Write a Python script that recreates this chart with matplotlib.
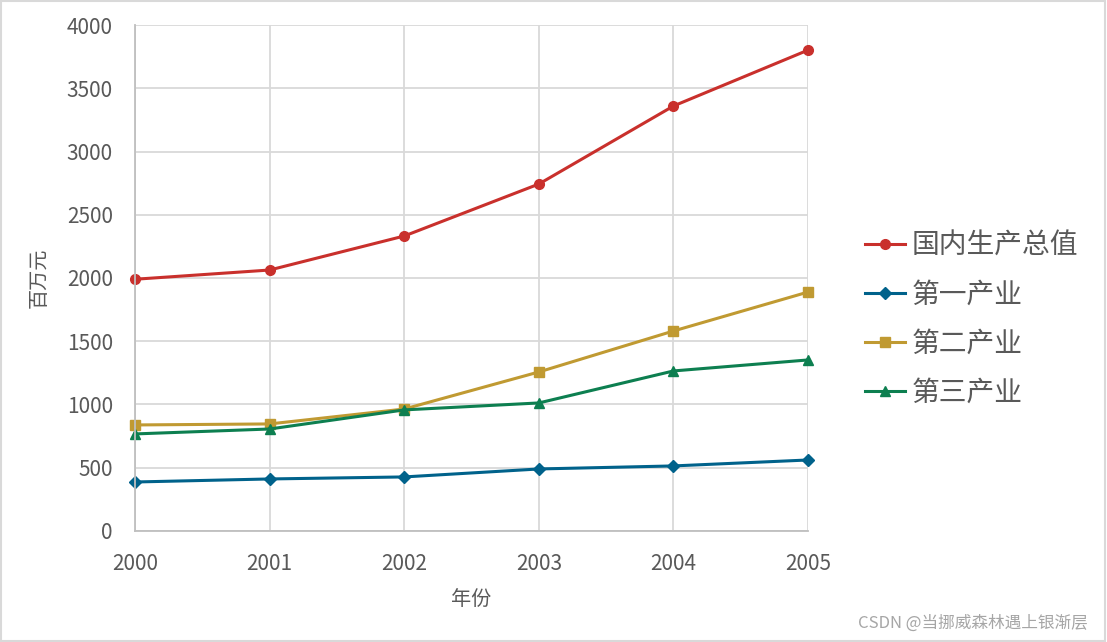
import matplotlib.pyplot as plt
from matplotlib.patches import Rectangle

plt.rcParams['font.family'] = ['Noto Sans CJK SC', 'DejaVu Sans']

# 数据
years = [2000, 2001, 2002, 2003, 2004, 2005]
gdp = [1990, 2063, 2332, 2743, 3360, 3802]
first = [387, 411, 427, 490, 514, 561]
second = [838, 846, 964, 1257, 1581, 1889]
third = [767, 806, 957, 1012, 1265, 1352]
names = ['国内生产总值', '第一产业', '第二产业', '第三产业']

fig = plt.figure(figsize=(11.07, 6.42), dpi=100)
ax = fig.add_axes([0.122, 0.173, 0.608, 0.788])

ax.plot(years, gdp, color='#C9302C', lw=2.2, marker='o', ms=7, label=names[0], clip_on=False)
ax.plot(years, first, color='#00628B', lw=2.2, marker='D', ms=6, label=names[1], clip_on=False)
ax.plot(years, second, color='#C09A32', lw=2.2, marker='s', ms=7, label=names[2], clip_on=False)
ax.plot(years, third, color='#0D7F50', lw=2.2, marker='^', ms=7, label=names[3], clip_on=False)

ax.set_xlim(2000, 2005)
ax.set_ylim(0, 4000)
ax.set_yticks(range(0, 4001, 500))
ax.set_xticks(years)
ax.grid(True, color='#D9D9D9', lw=1.3)
ax.set_axisbelow(True)
for s in ['top', 'right']:
    ax.spines[s].set_visible(False)
for s in ['left', 'bottom']:
    ax.spines[s].set_color('#BFBFBF')
    ax.spines[s].set_linewidth(1.3)
ax.tick_params(length=0, labelsize=15, labelcolor='#595959')
ax.tick_params(axis='y', pad=16)
ax.tick_params(axis='x', pad=16)
ax.set_xlabel('年份', fontsize=14.5, color='#595959', labelpad=10)
ax.set_ylabel('百万元', fontsize=14.5, color='#595959', labelpad=12)

ax.legend(loc='center left', bbox_to_anchor=(0.781, 0.503), bbox_transform=fig.transFigure,
          frameon=False, borderaxespad=0, borderpad=0,
          fontsize=20, labelcolor='#595959', handlelength=1.45,
          handletextpad=0.25, labelspacing=0.69)

fig.patches.append(Rectangle((0.001, 0.002), 0.997, 0.996, transform=fig.transFigure,
                             fill=False, edgecolor='#D9D9D9', lw=1.5))
fig.text(0.983, 0.03, 'CSDN @当挪威森林遇上银渐层', ha='right', va='center',
         fontsize=12, color='#A6A6A6')

fig.savefig('out.png', dpi=100)
